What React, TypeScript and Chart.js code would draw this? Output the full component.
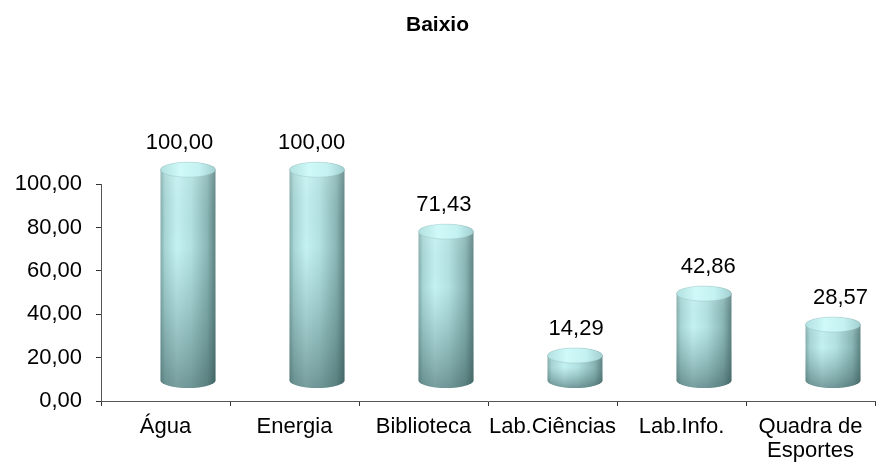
import React, { useEffect, useRef } from "react";
import { Chart, registerables } from "chart.js";

Chart.register(...registerables);

const TITLE = "Baixio";
const categories: (string | string[])[] = [
  "Água",
  "Energia",
  "Biblioteca",
  "Lab.Ciências",
  "Lab.Info.",
  ["Quadra de", "Esportes"],
];
const values = [100, 100, 71.43, 14.29, 42.86, 28.57];
const yMin = 0;
const yMax = 100;
const yStep = 20;

const FONT = "'Liberation Sans', Arial, Helvetica, sans-serif";

const fmt = (v: number) => v.toFixed(2).replace(".", ",");

const cylinderPlugin = {
  id: "cylinders",
  afterDatasetsDraw(chart: any) {
    const meta = chart.getDatasetMeta(0);
    const c: CanvasRenderingContext2D = chart.ctx;
    meta.data.forEach((bar: any, i: number) => {
      const { x, y, base, width } = bar.getProps(["x", "y", "base", "width"], true);
      const cx = x + 22.5;
      const rx = width / 2;
      const ry = 7.5;
      const top = y - 14.5;
      const bot = base - 20;

      const bodyPath = () => {
        c.beginPath();
        c.moveTo(cx - rx, top);
        c.lineTo(cx - rx, bot);
        c.ellipse(cx, bot, rx, ry, 0, Math.PI, 0, true);
        c.lineTo(cx + rx, top);
        c.ellipse(cx, top, rx, ry, 0, 0, Math.PI, true);
        c.closePath();
      };

      c.save();
      const hg = c.createLinearGradient(cx - rx, 0, cx + rx, 0);
      hg.addColorStop(0, "#84acac");
      hg.addColorStop(0.08, "#a8d6d6");
      hg.addColorStop(0.3, "#c4f1f2");
      hg.addColorStop(0.55, "#b3e2e2");
      hg.addColorStop(0.85, "#8ab6b6");
      hg.addColorStop(1, "#5d8282");
      bodyPath();
      c.fillStyle = hg;
      c.fill();

      const vg = c.createLinearGradient(0, top, 0, bot + ry);
      vg.addColorStop(0, "rgba(255,255,255,0.12)");
      vg.addColorStop(0.35, "rgba(70,110,110,0.0)");
      vg.addColorStop(1, "rgba(35,65,65,0.48)");
      bodyPath();
      c.fillStyle = vg;
      c.fill();

      // top cap
      const tg = c.createLinearGradient(cx - rx, 0, cx + rx, 0);
      tg.addColorStop(0, "#b2e0e0");
      tg.addColorStop(0.35, "#d0f9f9");
      tg.addColorStop(0.7, "#c4f1f1");
      tg.addColorStop(1, "#a2cfcf");
      c.beginPath();
      c.ellipse(cx, top, rx, ry, 0, 0, Math.PI * 2);
      c.fillStyle = tg;
      c.fill();
      c.strokeStyle = "rgba(140,180,180,0.35)";
      c.lineWidth = 1;
      c.stroke();

      // value label
      c.fillStyle = "#000";
      c.font = `22px ${FONT}`;
      c.textAlign = "center";
      c.textBaseline = "middle";
      c.fillText(fmt(values[i]), x + 14 + 3.2 * i, top - 27);
      c.restore();
    });
  },
};

export default function App() {
  const ref = useRef<HTMLCanvasElement>(null);
  useEffect(() => {
    if (!ref.current) return;
    const chart = new Chart(ref.current, {
      type: "bar",
      data: {
        labels: categories as any,
        datasets: [
          {
            data: values,
            backgroundColor: "rgba(0,0,0,0)",
            borderWidth: 0,
            categoryPercentage: 1,
            barPercentage: 0.426,
          },
        ],
      },
      options: {
        animation: false,
        responsive: false,
        layout: { padding: { left: 0, right: 1, top: 0, bottom: 0 } },
        plugins: {
          legend: { display: false },
          tooltip: { enabled: false },
          title: {
            display: true,
            text: TITLE,
            color: "#000",
            font: { family: FONT, size: 21, weight: "bold", lineHeight: 1.2 },
            padding: { top: 13, bottom: 146 },
          },
        },
        scales: {
          x: {
            type: "category",
            offset: true,
            grid: {
              display: true,
              offset: true,
              drawOnChartArea: false,
              drawTicks: true,
              tickLength: 5,
              color: "#333",
            },
            border: { display: true, color: "#555", width: 1 },
            ticks: {
              color: "#000",
              font: { family: FONT, size: 22, lineHeight: 1.1 },
              padding: 9,
              maxRotation: 0,
              minRotation: 0,
              autoSkip: false,
            },
            afterFit: (s: any) => {
              s.height = 66;
            },
          },
          y: {
            min: yMin,
            max: yMax,
            grid: {
              display: true,
              drawOnChartArea: false,
              drawTicks: true,
              tickLength: 5,
              color: "#333",
            },
            border: { display: true, color: "#555", width: 1 },
            ticks: {
              stepSize: yStep,
              color: "#000",
              font: { family: FONT, size: 22 },
              padding: 14,
              callback: (v: any) => fmt(Number(v)),
            },
            afterFit: (s: any) => {
              s.width = 101;
            },
          },
        },
      },
      plugins: [cylinderPlugin],
    });
    return () => chart.destroy();
  }, []);
  return (
    <div style={{ position: "absolute", left: 0, top: 0, width: 876, height: 467, background: "#fff" }}>
      <canvas ref={ref} width={876} height={467} />
    </div>
  );
}
